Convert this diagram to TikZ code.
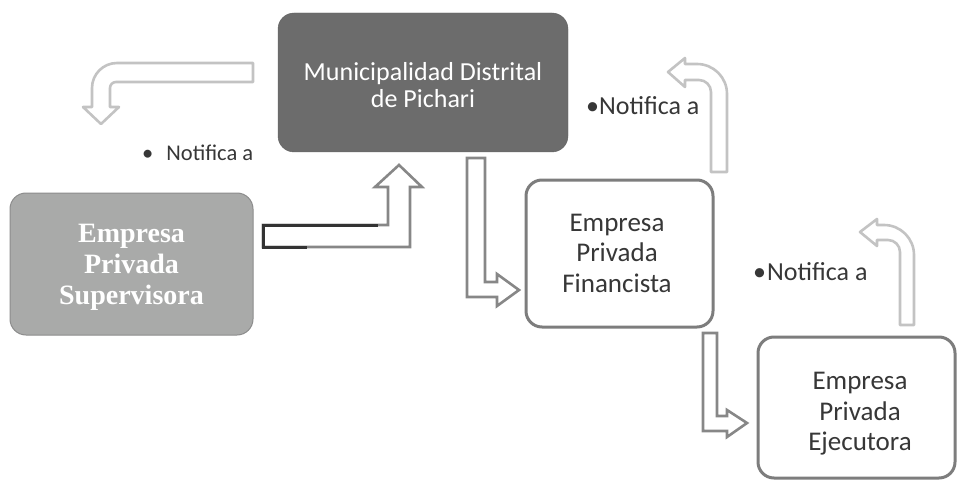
\documentclass[tikz,border=0pt]{standalone}
\usepackage{fontspec}
\setmainfont{Carlito}
\newfontfamily\supfont{Liberation Serif}
\definecolor{darkbox}{RGB}{108,108,108}
\definecolor{lightbox}{RGB}{169,170,169}
\definecolor{lightbord}{RGB}{140,140,140}
\definecolor{boxbord}{RGB}{125,125,125}
\definecolor{txtgrey}{RGB}{55,55,55}
\definecolor{palearrow}{RGB}{195,195,195}
\definecolor{midarrow}{RGB}{135,135,135}
\tikzset{
  boxbase/.style={rounded corners=16pt, inner sep=0pt, align=center},
  darkstep/.style={boxbase, fill=darkbox, draw=darkbox!90!black},
  greystep/.style={boxbase, fill=lightbox, draw=lightbord, line width=1pt},
  whitestep/.style={boxbase, fill=white, draw=boxbord, line width=3pt},
  darktext/.style={align=center, inner sep=0pt, text=white, font=\fontsize{26}{27}\selectfont},
  greytext/.style={align=center, inner sep=0pt, text=white,
    font=\supfont\bfseries\fontsize{28}{31}\selectfont},
  whitetext/.style={align=center, inner sep=0pt, text=txtgrey, font=\fontsize{27}{30.5}\selectfont},
  notelabel/.style={anchor=west, inner sep=0pt, text=txtgrey, font=\fontsize{26}{30}\selectfont},
  palearr/.style={draw=palearrow, line width=2.6pt, fill=white, line join=round},
  midarr/.style={draw=midarrow, line width=2.6pt, fill=white, line join=miter}
}
\begin{document}
\begin{tikzpicture}[x=1pt,y=-1pt]
\useasboundingbox (0,0) rectangle (957,481);
% boxes
\node[darkstep, minimum width=290pt, minimum height=139pt] (muni) at (423,82.5) {};
\node[greystep, minimum width=243pt, minimum height=142pt] (sup) at (131.5,264) {};
\node[whitestep, minimum width=187pt, minimum height=147pt] (fin) at (619.5,253.5) {};
\node[whitestep, minimum width=197pt, minimum height=141pt] (eje) at (856.5,407.5) {};
% box texts
\node[darktext] (munitext) at (423,85) {Municipalidad Distrital\\de Pichari};
\node[greytext] (suptext) at (131.5,267) {Empresa\\Privada\\Supervisora};
\node[whitetext] (fintext) at (617,253) {Empresa\\Privada\\Financista};
\node[whitetext] (ejetext) at (860,414) {Empresa\\Privada\\Ejecutora};
% labels
\node[notelabel, font=\fontsize{22.5}{27}\selectfont] (n1) at (142,153) {\textbullet\hspace{13pt}Notifica a};
\node[notelabel] (n2) at (586,106) {\textbullet Notifica a};
\node[notelabel] (n3) at (753,272) {\textbullet\hspace{1pt}Notifica a};
% arrow: muni -> left/down (pale)
\path[palearr] (253,63) -- (117,63) .. controls (103.2,63) and (92,74.2) .. (92,88)
  -- (92,107) -- (83,107) -- (101,124) -- (119,107) -- (110,107) -- (110,88)
  .. controls (110,84.7) and (112.7,82) .. (116,82) -- (253,82) -- cycle;
% arrow: sup -> muni (mid grey, dark left end)
\path[midarr] (263,225) -- (388,225) -- (388,187) -- (375,187) -- (399,165)
  -- (422,187) -- (410,187) -- (410,247) -- (263,247) -- cycle;
\draw[black!80, line width=3pt] (378,225) -- (263,225) -- (263,247) -- (307,247);
% arrow: muni -> fin
\path[midarr] (467,158) -- (485,158) -- (485,282) -- (497,282) -- (497,274)
  -- (519,290) -- (497,306) -- (497,297) -- (467,297) -- cycle;
% arrow: fin -> eje
\path[midarr] (703,333) -- (717,333) -- (717,416) -- (727,416) -- (727,410)
  -- (747,423) -- (727,437) -- (727,431) -- (703,431) -- cycle;
% arrow: fin -> up/left (pale)
\path[palearr] (711,172) -- (727,172) -- (727,94) .. controls (727,77.4) and (713.6,64) .. (697,64)
  -- (685,64) -- (685,58) -- (668,72) -- (685,87) -- (685,80) -- (699,80)
  .. controls (705.6,80) and (711,85.4) .. (711,92) -- cycle;
% arrow: eje -> up/left (pale)
\path[palearr] (900,325) -- (914,325) -- (914,255) .. controls (914,238.4) and (900.6,225) .. (884,225)
  -- (877,225) -- (877,219) -- (860,232) -- (877,246) -- (877,240) -- (888,240)
  .. controls (894.6,240) and (900,245.4) .. (900,252) -- cycle;
\end{tikzpicture}
\end{document}
